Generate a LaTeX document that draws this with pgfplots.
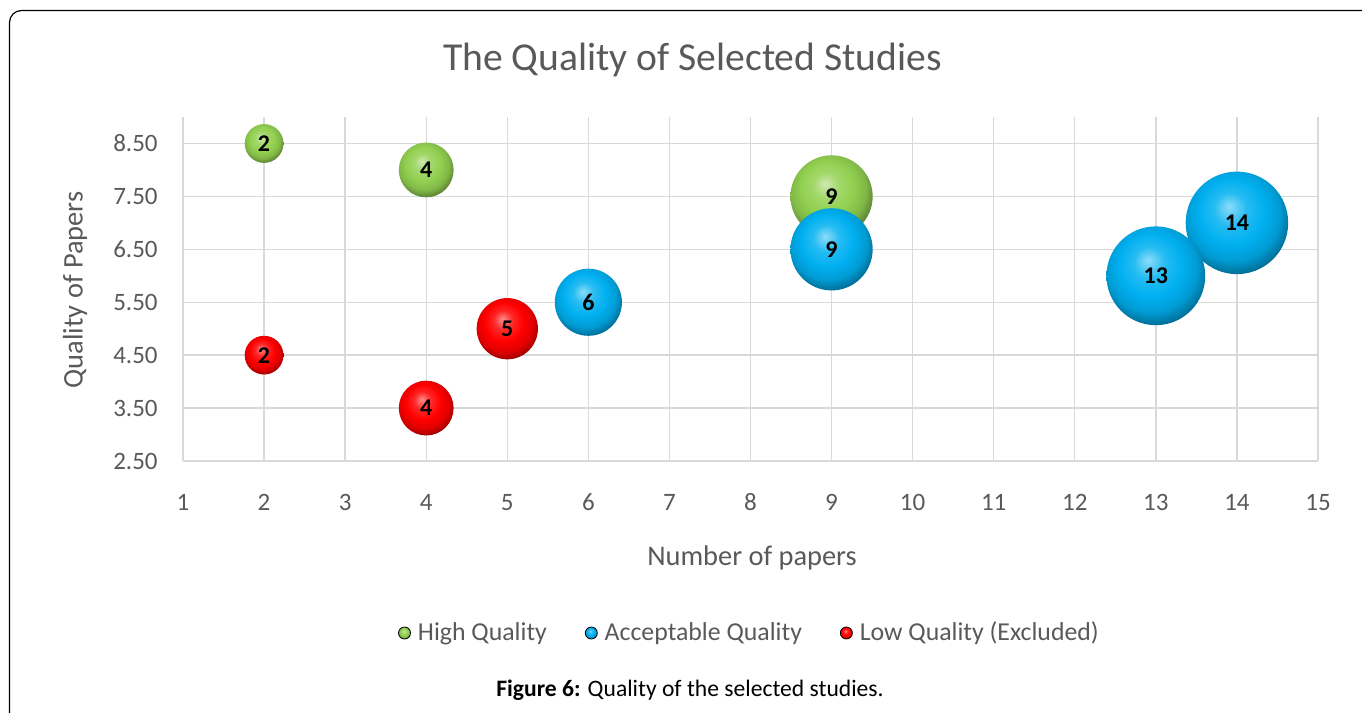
\documentclass[border=0pt]{standalone}
\usepackage{fontspec}
\setmainfont{Carlito}
\usepackage{pgfplots}
\usepackage{pgfplotstable}
\pgfplotsset{compat=1.18}

\definecolor{hiq}{RGB}{146,208,80}
\definecolor{accq}{RGB}{0,176,240}
\definecolor{lowq}{RGB}{255,0,0}
\definecolor{txtgray}{RGB}{89,89,89}
\definecolor{gridgray}{RGB}{217,217,217}

% x = number of papers, y = quality, s = bubble size
\pgfplotstableread{
x y s
2 8.5 2
4 8.0 4
9 7.5 9
}\high
\pgfplotstableread{
x y s
6 5.5 6
9 6.5 9
14 7.0 14
13 6.0 13
}\acceptable
\pgfplotstableread{
x y s
2 4.5 2
4 3.5 4
5 5.0 5
}\low

% glossy sphere look, colour taken from "ball color"
\pgfdeclareradialshading[tikz@ball]{gloss}{\pgfqpoint{-4bp}{8bp}}{%
  color(0bp)=(tikz@ball!45!white); color(8bp)=(tikz@ball!85!white);
  color(16bp)=(tikz@ball); color(23bp)=(tikz@ball!88!black);
  color(29bp)=(tikz@ball!60!black); color(50bp)=(tikz@ball!50!black)}

\pgfdeclareplotmark{sphere}{%
  \pgfpathcircle{\pgfpointorigin}{\pgfplotmarksize}%
  \pgfshadepath{gloss}{0}%
  \pgfusepath{discard}%
}

\pgfplotsset{
  bubble/.style={
    scatter, only marks, mark=sphere,
    point meta=explicit,
    visualization depends on={6.85*sqrt(\thisrow{s}) \as \r},
    scatter/@pre marker code/.code={\colorlet{tikz@ball}{#1}\pgfplotmarksize=\r pt\relax},
    scatter/@post marker code/.code={},
    legend image code/.code={\colorlet{tikz@ball}{#1}%
      \path[shading=gloss] (3pt,0) circle (3pt);},
  },
  bubblelabels/.style={
    only marks, mark=none, forget plot,
    point meta=explicit,
    nodes near coords,
    every node near coord/.append style={anchor=center, text=black, inner sep=0pt,
      font=\bfseries\fontsize{12}{13}\selectfont},
  },
}

\begin{document}
\begin{tikzpicture}
\useasboundingbox (0,0) rectangle (681pt,-356.5pt);
\begin{scope}
  \clip (0,0) rectangle (681pt,-356.5pt);
  \draw[black, line width=0.6pt, rounded corners=6pt] (4.75pt,-5.25pt) rectangle (740pt,-420pt);
\end{scope}

\begin{axis}[
  at={(91.5pt,-230.5pt)}, anchor=south west,
  scale only axis, width=567.5pt, height=172pt,
  xmin=1, xmax=15, ymin=2.5, ymax=9.0,
  xtick={1,...,15},
  ytick={2.5,3.5,4.5,5.5,6.5,7.5,8.5},
  yticklabel style={/pgf/number format/fixed, /pgf/number format/fixed zerofill,
    /pgf/number format/precision=2},
  /pgf/number format/assume math mode=true,
  ticklabel style={font=\fontsize{12.5}{13}\selectfont, text=txtgray, inner sep=0pt},
  xticklabel style={anchor=base, yshift=-24.5pt},
  yticklabel style={anchor=east, xshift=-12.5pt},
  major tick length=0pt,
  axis line style={draw=none},
  grid=major,
  major grid style={gridgray, line width=0.7pt},
  clip=false,
  legend columns=3,
  legend style={at={(0.5,-0.5)}, anchor=center, draw=none, fill=none,
    font=\fontsize{12.9}{14}\selectfont, text=txtgray,
    /tikz/every odd column/.append style={column sep=1.5pt},
    /tikz/every even column/.append style={column sep=17pt}},
]
\addplot[bubble=hiq] table[x=x, y=y, meta=s] {\high};
\addlegendentry{High Quality}
\addplot[bubblelabels] table[x=x, y=y, meta=s] {\high};
\addplot[bubble=accq] table[x=x, y=y, meta=s] {\acceptable};
\addlegendentry{Acceptable Quality}
\addplot[bubblelabels] table[x=x, y=y, meta=s] {\acceptable};
\addplot[bubble=lowq] table[x=x, y=y, meta=s] {\low};
\addlegendentry{Low Quality (Excluded)}
\addplot[bubblelabels] table[x=x, y=y, meta=s] {\low};
\end{axis}

\node[text=txtgray, font=\fontsize{19.8}{21}\selectfont] at (346.25pt,-30pt) {The Quality of Selected Studies};
\node[text=txtgray, font=\fontsize{14.2}{15}\selectfont] at (376pt,-279pt) {Number of papers};
\node[text=txtgray, font=\fontsize{14.2}{15}\selectfont, rotate=90] at (37.5pt,-145pt) {Quality of Papers};
\node[text=black, font=\fontsize{11.8}{13}\selectfont] at (345pt,-345pt) {\textbf{Figure 6:} Quality of the selected studies.};
\end{tikzpicture}
\end{document}
